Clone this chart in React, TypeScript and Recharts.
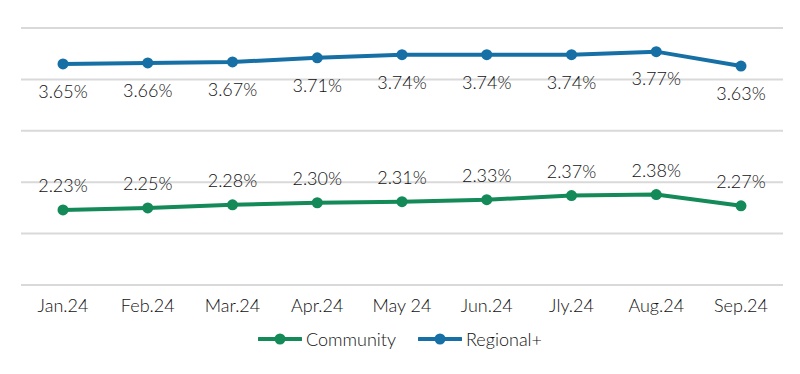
import { LineChart, Line, XAxis, YAxis, CartesianGrid, Legend, LabelList } from 'recharts'

const MONTHS = ['Jan.24', 'Feb.24', 'Mar.24', 'Apr.24', 'May 24', 'Jun.24', 'Jly.24', 'Aug.24', 'Sep.24']
const COMMUNITY = [2.23, 2.25, 2.28, 2.30, 2.31, 2.33, 2.37, 2.38, 2.27]
const REGIONAL = [3.65, 3.66, 3.67, 3.71, 3.74, 3.74, 3.74, 3.77, 3.63]
const Y_TICKS = [1.5, 2.0, 2.5, 3.0, 3.5, 4.0]

const GREEN = '#138a57'
const BLUE = '#1670a5'
const FONT = 'Lato, "Open Sans", sans-serif'
const TEXT = { fontSize: 18, fill: '#111', fontFamily: FONT, fontWeight: 300 }

const data = MONTHS.map((month, i) => ({ month, community: COMMUNITY[i], regional: REGIONAL[i] }))

const fmt = (v: unknown) => `${Number(v).toFixed(2)}%`

function LegendContent({ payload }: { payload?: { value: string; color: string }[] }) {
  return (
    <div style={{ display: 'flex', justifyContent: 'center', gap: 22, fontFamily: FONT, fontWeight: 300, fontSize: 18, color: '#111' }}>
      {(payload ?? []).map(p => (
        <div key={p.value} style={{ display: 'flex', alignItems: 'center' }}>
          <svg width={44} height={14} style={{ marginRight: 4 }}>
            <line x1={1} y1={7} x2={43} y2={7} stroke={p.color} strokeWidth={4} strokeLinecap="round" />
            <circle cx={22} cy={7} r={5.5} fill={p.color} />
          </svg>
          <span>{p.value}</span>
        </div>
      ))}
    </div>
  )
}

export default function App() {
  return (
    <div style={{ position: 'absolute', left: 0, top: 0, background: '#fff' }}>
      <LineChart width={800} height={374} data={data} margin={{ top: 28, right: 17, left: 21, bottom: 59 }}>
        <CartesianGrid vertical={false} stroke="#d9d9d9" strokeWidth={2} />
        <XAxis
          dataKey="month"
          axisLine={false}
          tickLine={false}
          height={30}
          tickMargin={8}
          padding={{ left: 42, right: 42 }}
          tick={TEXT}
        />
        <YAxis hide domain={[1.5, 4.0]} ticks={Y_TICKS} />
        <Legend
          verticalAlign="middle"
          align="center"
          layout="horizontal"
          wrapperStyle={{ top: 328, left: 0, width: 800 }}
          content={<LegendContent />}
        />
        <Line
          name="Community"
          dataKey="community"
          stroke={GREEN}
          strokeWidth={4}
          dot={{ r: 5.5, fill: GREEN, stroke: GREEN, strokeWidth: 0 }}
          activeDot={false}
          isAnimationActive={false}
        >
          <LabelList dataKey="community" position="top" offset={18} formatter={fmt} style={TEXT} />
        </Line>
        <Line
          name="Regional+"
          dataKey="regional"
          stroke={BLUE}
          strokeWidth={4}
          dot={{ r: 5.5, fill: BLUE, stroke: BLUE, strokeWidth: 0 }}
          activeDot={false}
          isAnimationActive={false}
        >
          <LabelList dataKey="regional" position="bottom" offset={21} formatter={fmt} style={TEXT} />
        </Line>
      </LineChart>
    </div>
  )
}
